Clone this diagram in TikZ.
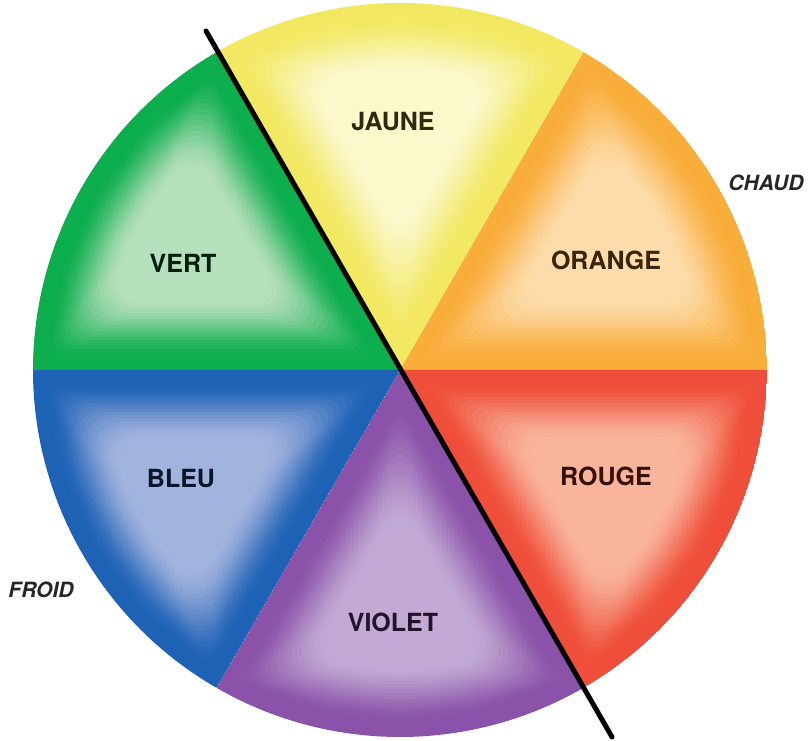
\documentclass[tikz,border=0pt]{standalone}
\usepackage{fontspec}
\newfontfamily\hv{TeX Gyre Heros}
\definecolor{gsat}{HTML}{0CAE4E}\definecolor{glt}{HTML}{B6DFBC}
\definecolor{ysat}{HTML}{F2E862}\definecolor{ylt}{HTML}{FBF8CC}
\definecolor{osat}{HTML}{F9AE3C}\definecolor{olt}{HTML}{FDDBAA}
\definecolor{rsat}{HTML}{EF4E3A}\definecolor{rlt}{HTML}{F9B49C}
\definecolor{vsat}{HTML}{8B52A9}\definecolor{vlt}{HTML}{C2AAD5}
\definecolor{bsat}{HTML}{1E62B6}\definecolor{blt}{HTML}{A2B3DE}
\newcommand\colsector[4]{%
\begin{scope}[shift={(400,371)}]
\clip (0,0) -- (#1:367) arc[start angle=#1,end angle=#2,radius=367] -- cycle;
\fill[#3] (0,0) -- (#1:367) arc[start angle=#1,end angle=#2,radius=367] -- cycle;
\foreach \d in {6,9,...,72}{%
\pgfmathsetmacro\da{asin(\d/(367-\d))}%
\pgfmathsetmacro\bis{(#1+#2)/2}%
\pgfmathsetmacro\rr{min(0.7*\d,36)}%
\pgfmathsetmacro\sp{(#2-#1-2*\da)/4}%
\pgfmathsetmacro\t{min(1,max(0,(\d-10)/60))}%
\pgfmathtruncatemacro\p{100*(1-\t*\t*(3-2*\t))}%
\fill[color=#3!\p!#4, rounded corners=\rr pt]
 (\bis:{2*\d}) -- ({#1+\da}:{367-\d}) -- ({#1+\da+\sp}:{367-\d})
 -- ({#1+\da+2*\sp}:{367-\d}) -- ({#1+\da+3*\sp}:{367-\d})
 -- ({#2-\da}:{367-\d}) -- cycle;}
\end{scope}}
\tikzset{lbl/.style={font=\hv\bfseries\fontsize{25}{25}\selectfont, inner sep=0pt},
 side/.style={font=\hv\bfseries\itshape\fontsize{21}{21}\selectfont, inner sep=0pt, text=black!85}}
\begin{document}
\begin{tikzpicture}[x=1pt,y=1pt]
\useasboundingbox (0,0) rectangle (809,741);
\fill[white] (0,0) rectangle (809,741);
\colsector{60}{120}{ysat}{ylt}
\colsector{0}{60}{osat}{olt}
\colsector{-60}{0}{rsat}{rlt}
\colsector{-120}{-60}{vsat}{vlt}
\colsector{-180}{-120}{bsat}{blt}
\colsector{120}{180}{gsat}{glt}
\coordinate (ltop) at (206,710);
\coordinate (lbot) at (612,4);
\draw[line width=5pt, line cap=round] (ltop) -- (lbot);
\node[lbl, text=black!82!ysat] (jaune) at (393,619) {JAUNE};
\node[lbl, text=black!82!gsat] (vert) at (183,478) {VERT};
\node[lbl, text=black!78!osat] (orange) at (606,481) {ORANGE};
\node[lbl, text=black!78!bsat] (bleu) at (181,262) {BLEU};
\node[lbl, text=black!78!rsat] (rouge) at (606,265) {ROUGE};
\node[lbl, text=black!75!vsat] (violet) at (393,119) {VIOLET};
\node[side] (chaud) at (766,558) {CHAUD};
\node[side] (froid) at (41,151) {FROID};
\end{tikzpicture}
\end{document}
